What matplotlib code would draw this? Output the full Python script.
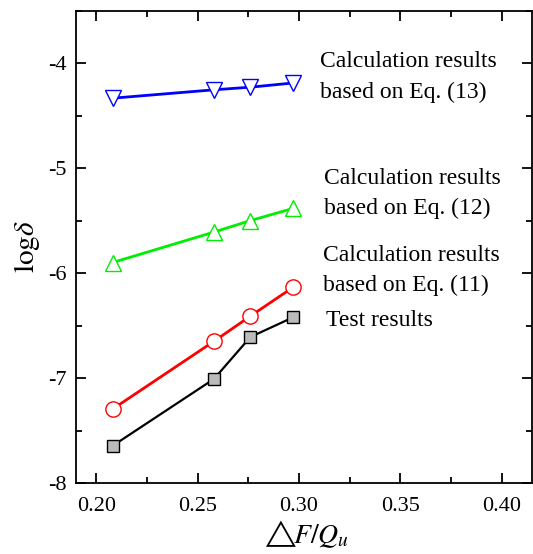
import matplotlib
matplotlib.use("Agg")
import matplotlib.pyplot as plt
from matplotlib.ticker import MultipleLocator

plt.rcParams['font.family'] = ['Liberation Serif', 'DejaVu Serif']
plt.rcParams['mathtext.fontset'] = 'stix'

# data
x = [0.208, 0.258, 0.276, 0.297]
eq13 = [-4.335, -4.255, -4.23, -4.19]
eq12 = [-5.90, -5.61, -5.50, -5.385]
eq11 = [-7.296, -6.65, -6.41, -6.136]
test = [-7.646, -7.009, -6.609, -6.422]

labels = [
    ("Calculation results", "based on Eq. (13)"),
    ("Calculation results", "based on Eq. (12)"),
    ("Calculation results", "based on Eq. (11)"),
]
test_label = "Test results"

fig = plt.figure(figsize=(5.33, 5.54), dpi=100)
ax = fig.add_axes([0.1426, 0.128, 0.856, 0.853])

ax.plot(x, eq13, color='#0000ff', lw=2.0, marker='v', ms=11, mfc='white', mec='#0000ff', mew=1.0)
ax.plot(x, eq12, color='#00ee00', lw=2.0, marker='^', ms=11, mfc='white', mec='#00ee00', mew=1.0)
ax.plot(x, eq11, color='#ff0000', lw=2.0, marker='o', ms=11, mfc='white', mec='#ff0000', mew=1.0)
ax.plot(x, test, color='black', lw=1.6, marker='s', ms=8.5, mfc='#bbbbbb', mec='black', mew=1.0)

ax.set_xlim(0.19, 0.415)
ax.set_ylim(-8, -3.5)
ax.xaxis.set_major_locator(MultipleLocator(0.05))
ax.xaxis.set_minor_locator(MultipleLocator(0.025))
ax.yaxis.set_major_locator(MultipleLocator(1))
ax.yaxis.set_minor_locator(MultipleLocator(0.5))
ax.set_xticks([0.20, 0.25, 0.30, 0.35, 0.40])
ax.set_xticklabels(["0.20", "0.25", "0.30", "0.35", "0.40"])
ax.set_yticks([-8, -7, -6, -5, -4])
ax.set_yticklabels(["-8", "-7", "-6", "-5", "-4"])

ax.tick_params(which='both', direction='in', top=True, right=True, width=1.3, labelsize=16)
ax.tick_params(which='major', length=7)
ax.tick_params(which='minor', length=4)
ax.tick_params(axis='y', pad=7)
ax.tick_params(axis='x', pad=10)
for s in ax.spines.values():
    s.set_linewidth(1.3)

ax.set_ylabel(r"$\mathrm{log}\delta$", fontsize=21, labelpad=4)
ax.set_xlabel(r"$\triangle\!\!F/Q_u$", fontsize=20, labelpad=2)

fs = 17
ax.text(0.3103, -3.986, labels[0][0], fontsize=fs, va='center', ha='left')
ax.text(0.3103, -4.28, labels[0][1], fontsize=fs, va='center', ha='left')
ax.text(0.3123, -5.103, labels[1][0], fontsize=fs, va='center', ha='left')
ax.text(0.3123, -5.389, labels[1][1], fontsize=fs, va='center', ha='left')
ax.text(0.3116, -5.832, labels[2][0], fontsize=fs, va='center', ha='left')
ax.text(0.3116, -6.122, labels[2][1], fontsize=fs, va='center', ha='left')
ax.text(0.3131, -6.45, test_label, fontsize=fs, va='center', ha='left')

fig.savefig("out.png", dpi=100)
